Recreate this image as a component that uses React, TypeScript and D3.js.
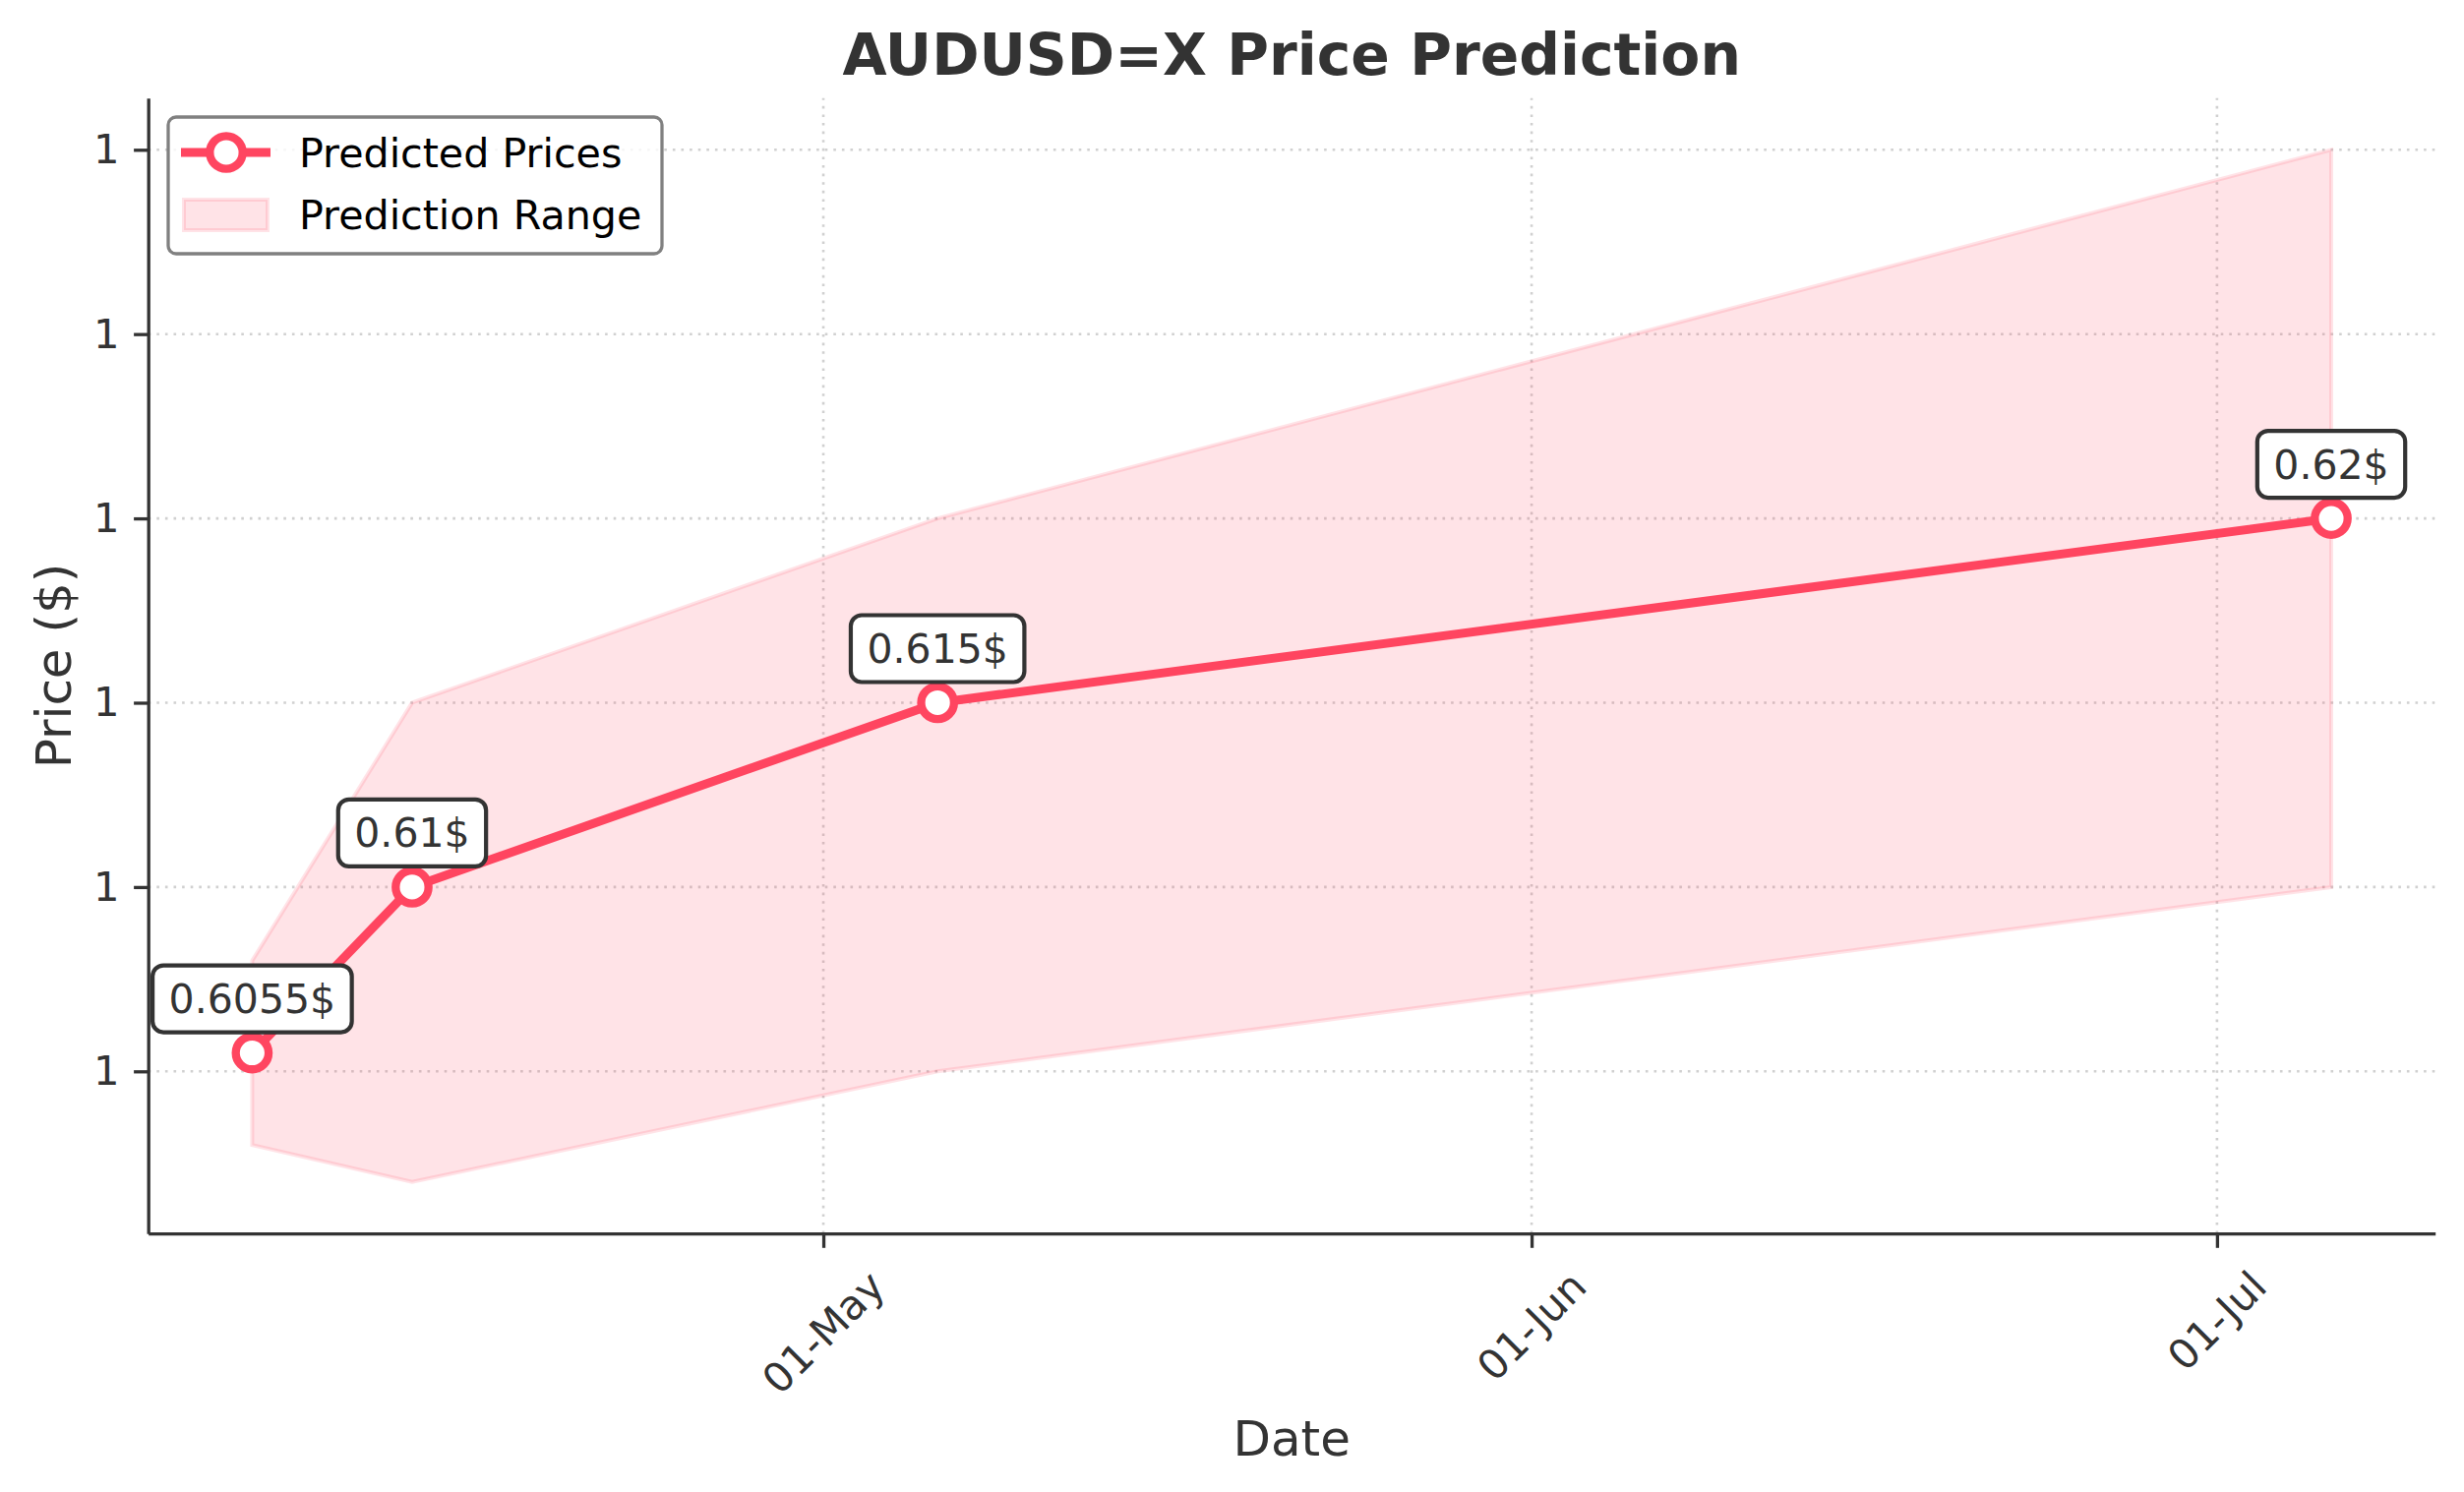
import React, { useEffect, useRef } from 'react';
import * as d3 from 'd3';

// prediction points
const dates = ['2025-04-06', '2025-04-13', '2025-05-06', '2025-07-06'];
const predicted = [0.6055, 0.61, 0.615, 0.62];
const lower = [0.603, 0.602, 0.605, 0.61];
const upper = [0.608, 0.615, 0.62, 0.63];
const pointLabels = ['0.6055$', '0.61$', '0.615$', '0.62$'];

// axis ticks
const yTicks = [0.605, 0.61, 0.615, 0.62, 0.625, 0.63];
const xTicks = ['2025-05-01', '2025-06-01', '2025-07-01'];

const W = 2505;
const H = 1517;
const FONT = '"DejaVu Sans", Verdana, sans-serif';
const LINE = '#FF4560';
const TEXT = '#333333';

const App: React.FC = () => {
  const ref = useRef<SVGSVGElement | null>(null);

  useEffect(() => {
    if (!ref.current) return;
    const svg = d3.select(ref.current);
    svg.selectAll('*').remove();

    const margin = { top: 99.8, right: W - 2475.7, bottom: H - 1254.2, left: 150.7 };
    const parse = d3.utcParse('%Y-%m-%d');
    const pts = dates.map((d, i) => ({
      date: parse(d) as Date,
      value: predicted[i],
      lo: lower[i],
      hi: upper[i],
      label: pointLabels[i],
    }));

    // matplotlib-like 5% margins
    const tExt = d3.extent(pts, d => +d.date) as [number, number];
    const tPad = (tExt[1] - tExt[0]) * 0.05;
    const yMin = d3.min(pts, d => d.lo) as number;
    const yMax = d3.max(pts, d => d.hi) as number;
    const yPad = (yMax - yMin) * 0.05;

    const x = d3
      .scaleUtc()
      .domain([new Date(tExt[0] - tPad), new Date(tExt[1] + tPad)])
      .range([margin.left, W - margin.right]);
    const y = d3
      .scaleLinear()
      .domain([yMin - yPad, yMax + yPad])
      .range([H - margin.bottom, margin.top]);

    const x0 = margin.left;
    const x1 = W - margin.right;
    const y0 = H - margin.bottom;
    const y1 = margin.top;

    svg.append('rect').attr('width', W).attr('height', H).attr('fill', '#fff');

    // grid
    const grid = svg.append('g').attr('stroke', '#b0b0b0').attr('stroke-opacity', 0.6)
      .attr('stroke-width', 2.6).attr('stroke-dasharray', '2.6,6');
    yTicks.forEach(t => {
      grid.append('line').attr('x1', x0).attr('x2', x1).attr('y1', y(t)).attr('y2', y(t));
    });
    xTicks.forEach(t => {
      const d = parse(t) as Date;
      grid.append('line').attr('x1', x(d)).attr('x2', x(d)).attr('y1', y0).attr('y2', y1);
    });

    // prediction range
    const area = d3
      .area<typeof pts[number]>()
      .x(d => x(d.date))
      .y0(d => y(d.lo))
      .y1(d => y(d.hi));
    svg.append('path')
      .datum(pts)
      .attr('d', area)
      .attr('fill', LINE)
      .attr('fill-opacity', 0.15)
      .attr('stroke', LINE)
      .attr('stroke-opacity', 0.15)
      .attr('stroke-width', 4);

    // predicted line
    const line = d3
      .line<typeof pts[number]>()
      .x(d => x(d.date))
      .y(d => y(d.value));
    svg.append('path')
      .datum(pts)
      .attr('d', line)
      .attr('fill', 'none')
      .attr('stroke', LINE)
      .attr('stroke-width', 9)
      .attr('stroke-linejoin', 'round');

    svg.selectAll('circle.pt')
      .data(pts)
      .enter()
      .append('circle')
      .attr('class', 'pt')
      .attr('cx', d => x(d.date))
      .attr('cy', d => y(d.value))
      .attr('r', 16.7)
      .attr('fill', '#fff')
      .attr('stroke', LINE)
      .attr('stroke-width', 8.3);

    // annotations
    pts.forEach(p => {
      const cx = x(p.date);
      const cy = y(p.value) - 55;
      const g = svg.append('g');
      const rect = g.append('rect');
      const txt = g.append('text')
        .attr('x', cx)
        .attr('y', cy + 14.5)
        .attr('text-anchor', 'middle')
        .attr('font-family', FONT)
        .attr('font-size', 41)
        .attr('fill', TEXT)
        .text(p.label);
      const tw = (txt.node() as SVGTextElement).getComputedTextLength();
      const bw = tw + 33;
      const bh = 68;
      rect.attr('x', cx - bw / 2).attr('y', cy - bh / 2)
        .attr('width', bw).attr('height', bh)
        .attr('rx', 11).attr('ry', 11)
        .attr('fill', '#fff').attr('stroke', TEXT).attr('stroke-width', 4.2);
    });

    // y axis
    const yAxis = svg.append('g')
      .attr('transform', `translate(${x0},0)`)
      .call(
        d3.axisLeft(y)
          .tickValues(yTicks)
          .tickFormat(d3.format('.0f') as any)
          .tickSize(14.6)
          .tickSizeOuter(0)
          .tickPadding(14.6),
      );
    // x axis
    const xAxis = svg.append('g')
      .attr('transform', `translate(0,${y0})`)
      .call(
        d3.axisBottom(x)
          .tickValues(xTicks.map(t => parse(t) as Date))
          .tickFormat(() => '')
          .tickSize(14.6)
          .tickSizeOuter(0),
      );
    [yAxis, xAxis].forEach(a => {
      a.select('.domain').attr('stroke', TEXT).attr('stroke-width', 3.3);
      a.selectAll('.tick line').attr('stroke', TEXT).attr('stroke-width', 3.3);
      a.selectAll('text').attr('font-family', FONT).attr('font-size', 41.7).attr('fill', TEXT);
    });

    // rotated x tick labels
    const fmt = d3.utcFormat('%d-%b');
    xTicks.forEach(t => {
      const d = parse(t) as Date;
      const txt = svg.append('text')
        .attr('text-anchor', 'middle')
        .attr('dominant-baseline', 'central')
        .attr('font-family', FONT)
        .attr('font-size', 41.7)
        .attr('fill', TEXT)
        .text(fmt(d));
      const tw = (txt.node() as SVGTextElement).getComputedTextLength();
      const half = ((tw + 48) * Math.SQRT1_2) / 2;
      const cx = x(d);
      const cy = y0 + 14.6 + 14.6 + half;
      txt.attr('x', cx).attr('y', cy).attr('transform', `rotate(-45,${cx},${cy})`);
    });

    // title and axis labels
    svg.append('text')
      .attr('x', (x0 + x1) / 2)
      .attr('y', 76)
      .attr('text-anchor', 'middle')
      .attr('font-family', FONT)
      .attr('font-weight', 'bold')
      .attr('font-size', 58.3)
      .attr('fill', TEXT)
      .text('AUDUSD=X Price Prediction');
    svg.append('text')
      .attr('x', (x0 + x1) / 2)
      .attr('y', 1480)
      .attr('text-anchor', 'middle')
      .attr('font-family', FONT)
      .attr('font-size', 50)
      .attr('fill', TEXT)
      .text('Date');
    svg.append('text')
      .attr('transform', `translate(72,${(y0 + y1) / 2}) rotate(-90)`)
      .attr('text-anchor', 'middle')
      .attr('font-family', FONT)
      .attr('font-size', 50)
      .attr('fill', TEXT)
      .text('Price ($)');

    // legend
    const lg = svg.append('g');
    lg.append('rect')
      .attr('x', 171).attr('y', 119).attr('width', 502).attr('height', 139)
      .attr('rx', 8).attr('fill', '#fff').attr('fill-opacity', 0.8)
      .attr('stroke', '#808080').attr('stroke-width', 3.3);
    lg.append('line')
      .attr('x1', 184).attr('x2', 275).attr('y1', 155).attr('y2', 155)
      .attr('stroke', LINE).attr('stroke-width', 9);
    lg.append('circle')
      .attr('cx', 230).attr('cy', 155).attr('r', 16.7)
      .attr('fill', '#fff').attr('stroke', LINE).attr('stroke-width', 8.3);
    lg.append('rect')
      .attr('x', 187).attr('y', 203).attr('width', 85).attr('height', 31)
      .attr('fill', LINE).attr('fill-opacity', 0.15)
      .attr('stroke', LINE).attr('stroke-opacity', 0.15).attr('stroke-width', 4);
    [['Predicted Prices', 170], ['Prediction Range', 233]].forEach(([label, by]) => {
      lg.append('text')
        .attr('x', 304).attr('y', by as number)
        .attr('font-family', FONT).attr('font-size', 41.2).attr('fill', '#000')
        .text(label as string);
    });
  }, []);

  return (
    <svg
      ref={ref}
      width={W}
      height={H}
      style={{ position: 'absolute', left: 0, top: 0, display: 'block' }}
    />
  );
};

export default App;
